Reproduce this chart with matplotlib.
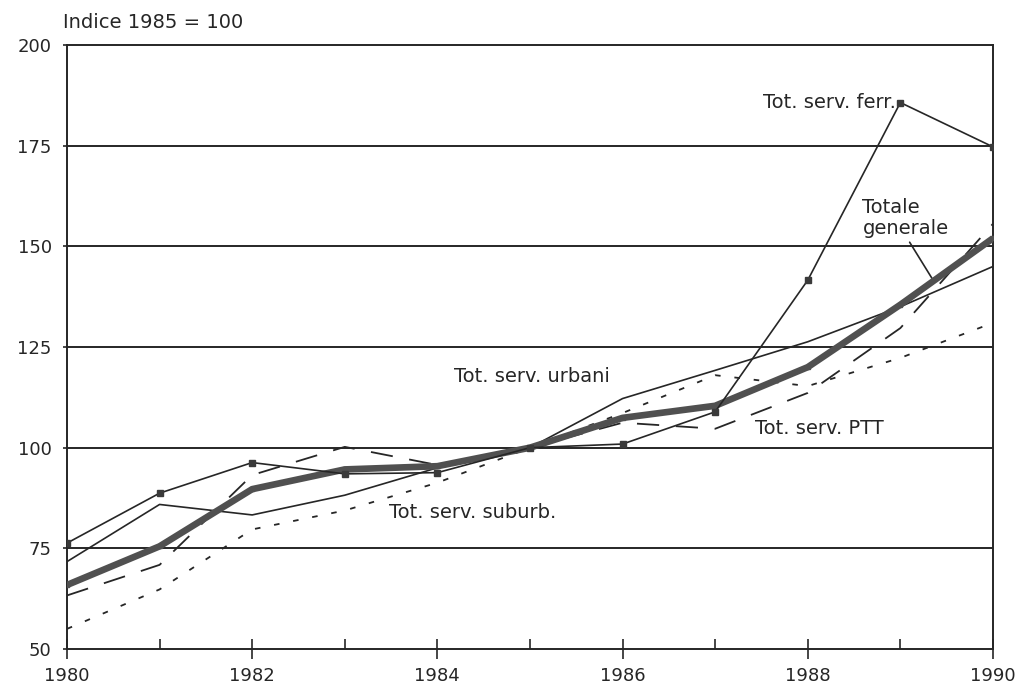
import matplotlib
matplotlib.use("Agg")
import matplotlib.pyplot as plt
from matplotlib.ticker import MultipleLocator

# valori (indice 1985 = 100)
anni = [1980, 1981, 1982, 1983, 1984, 1985, 1986, 1987, 1988, 1989, 1990]
ferr = [76.3, 88.7, 96.3, 93.5, 93.8, 100, 100.9, 108.9, 141.6, 185.7, 174.7]
urbani = [71.7, 85.9, 83.3, 88.2, 95.0, 100, 112.2, 119.2, 126.3, 135.0, 145.0]
totale = [65.9, 75.5, 89.7, 94.6, 95.4, 100, 107.4, 110.4, 120.0, 135.5, 152.0]
ptt = [63.3, 70.9, 93.2, 100.2, 95.7, 100, 106.2, 104.7, 113.6, 129.7, 155.6]
suburb = [55.0, 64.8, 79.7, 84.4, 91.3, 100, 108.6, 118.0, 115.3, 122.3, 131.0]

y_ticks = [50, 75, 100, 125, 150, 175, 200]
x_ticks = [1980, 1982, 1984, 1986, 1988, 1990]

plt.rcParams['font.family'] = ['DejaVu Sans']
plt.rcParams['lines.scale_dashes'] = False

INK = '#262626'
FS = 14

fig = plt.figure(figsize=(10.24, 6.92), dpi=100)
ax = fig.add_axes([0.0654, 0.0621, 0.9043, 0.8729])

# griglia orizzontale
for v in y_ticks[1:-1]:
    ax.axhline(v, color=INK, lw=1.4, zorder=1)

# serie
ax.plot(anni, suburb, color=INK, lw=1.3, ls=(0, (4, 10)), zorder=2)
ax.plot(anni, ptt, color=INK, lw=1.3, ls=(0, (16, 12)), zorder=2)
ax.plot(anni, urbani, color=INK, lw=1.2, zorder=3)
ax.plot(anni, totale, color='#505050', lw=4.8, solid_capstyle='butt',
        marker='s', ms=3, mfc='#505050', mec='#505050', zorder=4)
ax.plot(anni, ferr, color=INK, lw=1.2, marker='s', ms=4.5,
        mfc='#3a3a3a', mec='#3a3a3a', zorder=5)

# etichette delle serie
ax.text(1988.95, 185.8, 'Tot. serv. ferr.', ha='right', va='center',
        fontsize=FS, color=INK)
ax.annotate('Totale\ngenerale', xy=(1989.34, 142.1), xytext=(1988.59, 157.0),
            ha='left', va='center', fontsize=FS, color=INK, linespacing=1.15,
            arrowprops=dict(arrowstyle='-', color=INK, lw=1.2,
                            relpos=(0.52, 0.0), shrinkA=1, shrinkB=0))
ax.text(1984.18, 117.6, 'Tot. serv. urbani', ha='left', va='center',
        fontsize=FS, color=INK)
ax.text(1983.48, 83.9, 'Tot. serv. suburb.', ha='left', va='center',
        fontsize=FS, color=INK)
ax.text(1987.43, 104.8, 'Tot. serv. PTT', ha='left', va='center',
        fontsize=FS, color=INK)

ax.set_xlim(1980, 1990)
ax.set_ylim(50, 200)
ax.set_yticks(y_ticks)
ax.set_xticks(x_ticks)
ax.xaxis.set_minor_locator(MultipleLocator(1))
ax.tick_params(axis='x', which='major', direction='inout', length=14,
               width=1.2, color=INK, pad=6, labelsize=13, labelcolor=INK)
ax.tick_params(axis='x', which='minor', direction='in', length=7,
               width=1.2, color=INK)
ax.tick_params(axis='y', length=3, width=1.2, color=INK, pad=8,
               labelsize=13, labelcolor=INK)

for s in ax.spines.values():
    s.set_color(INK)
    s.set_linewidth(1.4)

fig.text(0.0615, 0.967, 'Indice 1985 = 100', ha='left', va='center',
         fontsize=FS, color=INK)

fig.savefig('out.png', dpi=100, facecolor='white')
